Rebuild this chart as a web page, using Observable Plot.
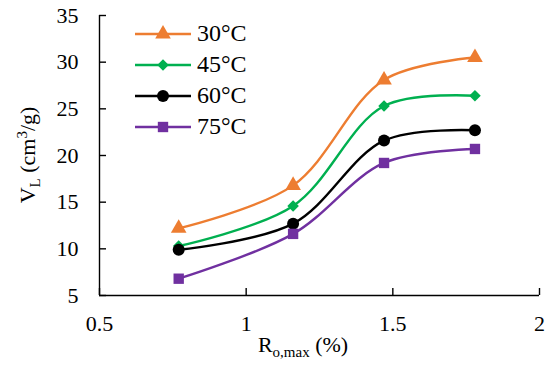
<!DOCTYPE html>
<html><head><meta charset="utf-8">
<script src="https://cdn.jsdelivr.net/npm/d3@7"></script>
<script src="https://cdn.jsdelivr.net/npm/@observablehq/plot@0.6"></script>
<style>
body{margin:0;background:#fff}
#wrap{position:relative;width:550px;height:375px;font-family:serif}
#wrap svg, #wrap svg text{font-family:serif !important}
#legend{position:absolute;left:135px;top:18px}
.row{display:flex;align-items:center;height:31px;font-size:24px;line-height:31px;color:#000}
.row svg{margin-right:6px}
</style>
</head><body><div id="wrap"><div id="legend"></div></div>
<script>
const ro = [0.77, 1.16, 1.47, 1.78];
const series = ["30°C", "45°C", "60°C", "75°C"];
const v30 = [12.2, 16.8, 28.1, 30.5];
const v45 = [10.3, 14.6, 25.3, 26.4];
const v60 = [9.9, 12.7, 21.6, 22.7];
const v75 = [6.8, 11.6, 19.2, 20.7];
const xTicks = [0.5, 1, 1.5, 2];
const yTicks = [5, 10, 15, 20, 25, 30, 35];

const colors = ["#ED7D31", "#00B050", "#000000", "#7030A0"];
const symbols = ["triangle", "diamond2", "circle", "square2"];
const radii = [5.8, 5.2, 6, 6.6];
const values = [v30, v45, v60, v75];

const data = [];
series.forEach((s, i) => ro.forEach((x, j) => data.push({series: s, x, y: values[i][j]})));

const dotMarks = series.map((s, i) =>
  Plot.dot(data.filter(d => d.series === s), {x: "x", y: "y", fill: colors[i], symbol: () => symbols[i], r: radii[i], stroke: "none"})
);

const chart = Plot.plot({
  width: 550, height: 375,
  marginLeft: 99, marginRight: 11, marginTop: 15, marginBottom: 80,
  style: {fontFamily: "serif", fontSize: "22px", color: "#000", background: "#fff"},
  x: {domain: [0.5, 2]},
  y: {domain: [5, 35]},
  symbol: {domain: symbols, range: symbols},
  marks: [
    Plot.ruleY([5], {stroke: "#000", strokeWidth: 1.4}),
    Plot.ruleX([0.5], {stroke: "#000", strokeWidth: 1.4}),
    Plot.axisX({ticks: xTicks, tickSize: -7, tickPadding: 27, label: null, tickFormat: d => String(d), strokeWidth: 1.4}),
    Plot.axisY({ticks: yTicks, tickSize: -7, tickPadding: 28, label: null, tickFormat: d => String(d), strokeWidth: 1.4}),
    ...series.map((s, i) => Plot.lineY(data.filter(d => d.series === s), {x: "x", y: "y", stroke: colors[i], curve: "catmull-rom", strokeWidth: 2.4})),
    ...dotMarks
  ]
});
document.getElementById("wrap").prepend(chart);

// axis titles with subscripts
const svg = d3.select(chart);
const xt = svg.append("text").attr("x", 303).attr("y", 352).attr("text-anchor", "middle")
  .attr("font-size", 22).attr("fill", "#000");
xt.append("tspan").text("R");
xt.append("tspan").attr("font-size", 15).attr("dy", 5).text("o,max");
xt.append("tspan").attr("dy", -5).text(" (%)");

const yt = svg.append("text").attr("transform", "translate(35,155) rotate(-90)").attr("text-anchor", "middle")
  .attr("font-size", 22).attr("fill", "#000");
yt.append("tspan").text("V");
yt.append("tspan").attr("font-size", 15).attr("dy", 5).text("L");
yt.append("tspan").attr("dy", -5).text(" (cm");
yt.append("tspan").attr("font-size", 15).attr("dy", -8).text("3");
yt.append("tspan").attr("dy", 8).text("/g)");

// legend
const leg = d3.select("#legend");
series.forEach((s, i) => {
  const row = leg.append("div").attr("class", "row");
  const sv = row.append("svg").attr("width", 56).attr("height", 20);
  sv.append("line").attr("x1", 0).attr("x2", 56).attr("y1", 10).attr("y2", 10).attr("stroke", colors[i]).attr("stroke-width", 2.4);
  const sym = {triangle: d3.symbolTriangle, diamond2: d3.symbolDiamond2, circle: d3.symbolCircle, square2: d3.symbolSquare2}[symbols[i]];
  sv.append("path").attr("transform", "translate(28,10)").attr("d", d3.symbol(sym, Math.PI * radii[i] * radii[i])()).attr("fill", colors[i]);
  row.append("span").text(s);
});
</script>
</body></html>
